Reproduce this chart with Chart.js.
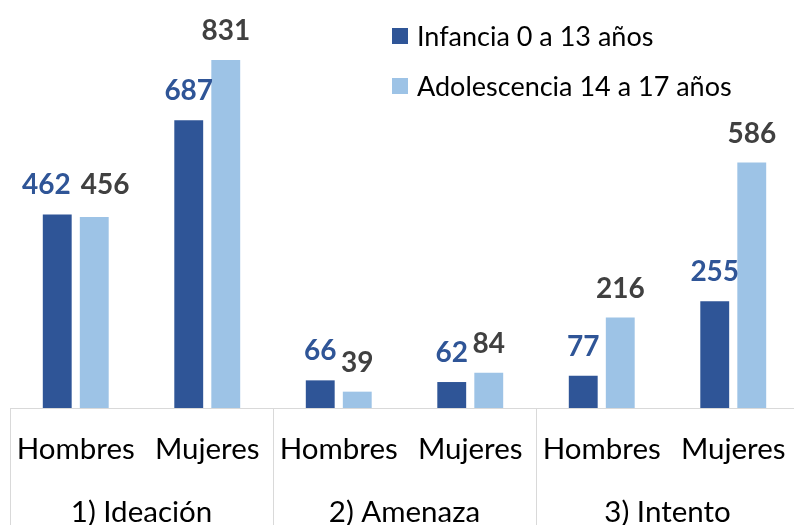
<!DOCTYPE html>
<html>
<head>
<meta charset="utf-8">
<script src="https://cdn.jsdelivr.net/npm/chart.js@4/dist/chart.umd.min.js"></script>
<style>
  html, body { margin: 0; padding: 0; background: #fff; overflow: hidden; }
  #wrap { width: 806px; height: 525px; }
</style>
</head>
<body>
<div id="wrap"><canvas id="grafico" width="806" height="525"></canvas></div>
<script>
var categorias = ["Hombres", "Mujeres", "Hombres", "Mujeres", "Hombres", "Mujeres"];
var grupos = ["1) Ideación", "2) Amenaza", "3) Intento"];
var infancia = [462, 687, 66, 62, 77, 255];
var adolescencia = [456, 831, 39, 84, 216, 586];
var series = ["Infancia 0 a 13 años", "Adolescencia 14 a 17 años"];

var azulOscuro = "#2F5597";
var azulClaro = "#9DC3E6";
var fuente = "Lato";

// etiquetas, separadores, grupos y leyenda
var extras = {
  id: "extras",
  afterDatasetsDraw: function (chart) {
    var ctx = chart.ctx;
    var x = chart.scales.x;
    var colores = [azulOscuro, "#404040"];

    ctx.save();
    ctx.font = "bold 28px " + fuente;
    ctx.textAlign = "center";
    ctx.textBaseline = "alphabetic";
    var m0 = chart.getDatasetMeta(0), m1 = chart.getDatasetMeta(1);
    categorias.forEach(function (c, j) {
      var a = { t: String(chart.data.datasets[0].data[j]), x: m0.data[j].x, y: m0.data[j].y - 20 };
      var b = { t: String(chart.data.datasets[1].data[j]), x: m1.data[j].x, y: m1.data[j].y - 20 };
      var wa = ctx.measureText(a.t).width, wb = ctx.measureText(b.t).width;
      // si las etiquetas se pisan, separarlas
      var hueco = (b.x - wb / 2) - (a.x + wa / 2);
      if (Math.abs(a.y - b.y) < 22 && hueco < 2) {
        var d = (10 - hueco) / 2;
        a.x -= d; b.x += d;
        a.y = b.y = Math.min(a.y, b.y);
      }
      ctx.fillStyle = colores[0];
      ctx.fillText(a.t, a.x, a.y);
      ctx.fillStyle = colores[1];
      ctx.fillText(b.t, b.x, b.y);
    });

    // separadores del eje
    var fondo = chart.height;
    var cortes = [x.left];
    for (var g = 0; g < grupos.length; g++) {
      var fin = g < grupos.length - 1
        ? (x.getPixelForValue(g * 2 + 1) + x.getPixelForValue(g * 2 + 2)) / 2
        : x.right;
      cortes.push(fin);
    }
    ctx.strokeStyle = "#d9d9d9";
    ctx.lineWidth = 1;
    cortes.forEach(function (c) {
      ctx.beginPath();
      ctx.moveTo(Math.round(c) + 0.5, x.top);
      ctx.lineTo(Math.round(c) + 0.5, fondo);
      ctx.stroke();
    });

    ctx.font = "29.5px " + fuente;
    ctx.fillStyle = "#000";
    ctx.textAlign = "center";
    ctx.textBaseline = "middle";
    grupos.forEach(function (nombre, g) {
      ctx.fillText(nombre, (cortes[g] + cortes[g + 1]) / 2, 512);
    });

    // leyenda
    ctx.font = "27px " + fuente;
    ctx.textAlign = "left";
    chart.data.datasets.forEach(function (ds, i) {
      var y = 36 + i * 50;
      ctx.fillStyle = ds.backgroundColor;
      ctx.fillRect(392, y - 8, 16, 16);
      ctx.fillStyle = "#000";
      ctx.fillText(ds.label, 417, y + 1);
    });
    ctx.restore();
  }
};

new Chart(document.getElementById("grafico").getContext("2d"), {
  type: "bar",
  data: {
    labels: categorias,
    datasets: [
      { label: series[0], data: infancia, backgroundColor: azulOscuro },
      { label: series[1], data: adolescencia, backgroundColor: azulClaro }
    ]
  },
  options: {
    responsive: false,
    animation: false,
    layout: { padding: { left: 10, right: 7, top: 0, bottom: 0 } },
    categoryPercentage: 0.563,
    barPercentage: 0.78,
    plugins: { legend: { display: false }, tooltip: { enabled: false } },
    scales: {
      y: { display: false, min: 0, max: 974 },
      x: {
        afterFit: function (s) { s.height = 117; },
        grid: { display: false, drawTicks: true, tickLength: 24 },
        border: { display: true, color: "#d9d9d9", width: 1 },
        ticks: {
          padding: 0,
          color: "#000",
          font: { family: fuente, size: 29.5 },
          maxRotation: 0,
          autoSkip: false
        }
      }
    }
  },
  plugins: [extras]
});
</script>
</body>
</html>
